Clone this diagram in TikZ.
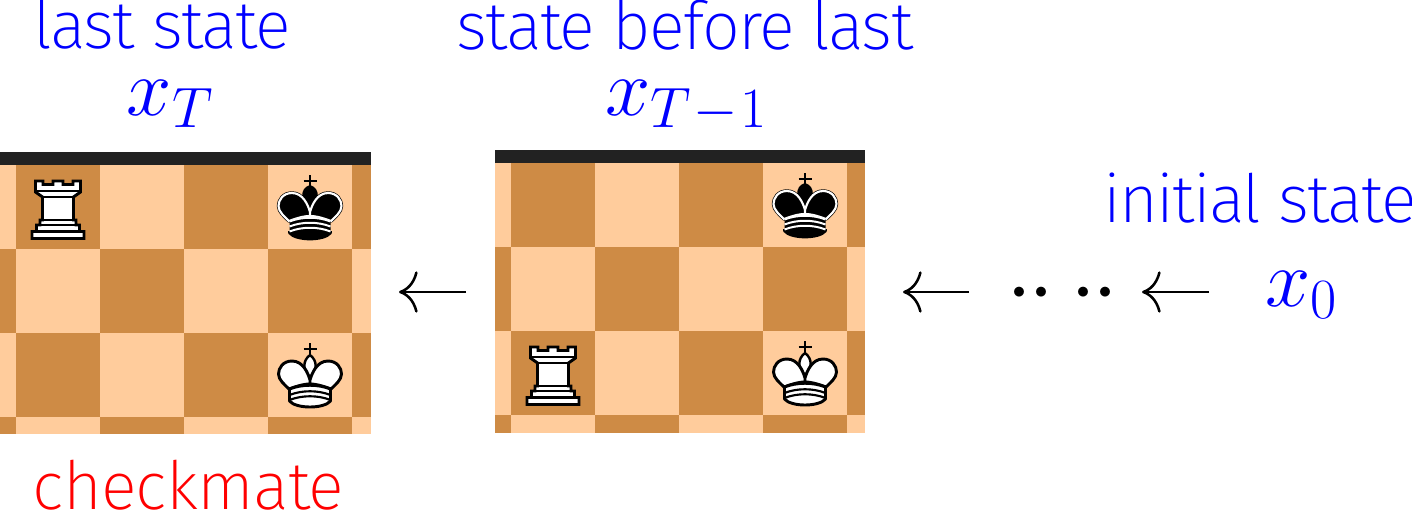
\documentclass[tikz,border=0pt]{standalone}
\usepackage{fix-cm}
\usepackage{fontspec}
\setmainfont{Fira Sans ExtraLight}
\usetikzlibrary{arrows.meta}
\definecolor{dsq}{HTML}{CE8B45}
\definecolor{lsq}{HTML}{FFCC9C}
\definecolor{barc}{HTML}{222222}
\definecolor{tblue}{HTML}{0000FF}
\newcommand{\bigtxt}{\fontsize{50}{60}\selectfont\addfontfeature{LetterSpace=-2.5}}
\newcommand{\mathtxt}{\fontsize{61}{70}\selectfont}
\newcommand{\bigdot}{\makebox[16.2pt]{\scalebox{1.15}{$\cdot$}}}
\newcommand{\kinglobes}{
  (0,47) .. controls (-2,40) and (-7,28) .. (-18,28) .. controls (-27,28) and (-31.5,35) .. (-31.5,41) .. controls (-31.5,47) and (-25,52) .. (-21,56) .. controls (-10,52) and (-5,51) .. (0,51) -- cycle
  (0,47) .. controls (2,40) and (7,28) .. (18,28) .. controls (27,28) and (31.5,35) .. (31.5,41) .. controls (31.5,47) and (25,52) .. (21,56) .. controls (10,52) and (5,51) .. (0,51) -- cycle}
\newcommand{\kingbase}{
  (-20.5,56) .. controls (-8,51) and (8,51) .. (20.5,56) -- (20.5,68) .. controls (14,76) and (-14,76) .. (-20.5,68) -- cycle}
\tikzset{
  label text/.style={font=\bigtxt,text=tblue,anchor=base,inner sep=0pt},
  math text/.style={font=\mathtxt,text=tblue,anchor=base,inner sep=0pt},
  conn/.style={-{To[length=14pt,width=31pt,line width=1.9pt]},line width=1.9pt},
  wking/.pic={
    \draw[line width=2.2pt] (0,10) -- (0,23) (-6.5,16) -- (6.5,16);
    \draw[line width=1.8pt,fill=white] (0,22) .. controls (-8,28) and (-7,38) .. (0,44) .. controls (7,38) and (8,28) .. (0,22) -- cycle;
    \draw[line width=2.2pt,fill=white,line join=round] \kinglobes;
    \draw[line width=2.2pt,fill=white,line join=round] \kingbase;
    \draw[line width=1.6pt] (-20.5,62) .. controls (-8,57) and (8,57) .. (20.5,62);
    \draw[line width=1.6pt] (-20.5,67) .. controls (-8,62) and (8,62) .. (20.5,67);
  },
  bking/.pic={
    \draw[line width=2.2pt] (0,10) -- (0,23) (-6.5,16) -- (6.5,16);
    \fill (0,20) .. controls (-11,23) and (-10,38) .. (0,46) .. controls (10,38) and (11,23) .. (0,20) -- cycle;
    \draw[line width=2.6pt,fill=black,line join=round] \kinglobes;
    \draw[line width=1.6pt,white,line join=round] \kinglobes;
    \fill \kingbase;
    \draw[line width=2pt,line join=round,fill=black] (-20.5,66) -- (-20.5,68) .. controls (-14,76) and (14,76) .. (20.5,68) -- (20.5,66);
    \draw[line width=1.5pt,white] (-20.5,56.5) .. controls (-8,51.5) and (8,51.5) .. (20.5,56.5);
    \draw[line width=1.5pt,white] (-20.5,61.5) .. controls (-8,56.5) and (8,56.5) .. (20.5,61.5);
    \draw[line width=1.5pt,white] (-20.5,66.5) .. controls (-8,61.5) and (8,61.5) .. (20.5,66.5);
  },
  wrook/.pic={
    \draw[line width=2.2pt,fill=white,line join=miter]
      (-22.5,16) -- (-15,16) -- (-15,19.5) -- (-5,19.5) -- (-5,16) -- (5,16) -- (5,19.5) -- (15,19.5) -- (15,16) -- (22.5,16)
      -- (22.5,27) -- (15.5,32) -- (15.5,55) -- (18,55) -- (18,60) -- (21.5,60) -- (21.5,66.5) -- (26,66.5) -- (26,73.5)
      -- (-26,73.5) -- (-26,66.5) -- (-21.5,66.5) -- (-21.5,60) -- (-18,60) -- (-18,55) -- (-15.5,55) -- (-15.5,32) -- (-22.5,27) -- cycle;
    \draw[line width=1.6pt] (-22.5,26) -- (22.5,26) (-15.5,32) -- (15.5,32) (-18,55) -- (18,55) (-21.5,60) -- (21.5,60) (-26,66.5) -- (26,66.5);
  },
}
\begin{document}
\begin{tikzpicture}[x=0.75pt,y=-0.75pt]
\useasboundingbox (0,0) rectangle (1412,511);
% board 1
\fill[lsq] (0,165) rectangle (370.5,434);
\foreach \c in {16,184} {\fill[dsq] (\c,165) rectangle +(84,84); \fill[dsq] (\c,333) rectangle +(84,84);}
\fill[dsq] (352,165) rectangle (370.5,249);
\fill[dsq] (352,333) rectangle (370.5,417);
\fill[dsq] (0,249) rectangle (16,333);
\fill[dsq] (100,249) rectangle +(84,84);
\fill[dsq] (268,249) rectangle +(84,84);
\fill[dsq] (0,417) rectangle (16,434);
\fill[dsq] (100,417) rectangle (184,434);
\fill[dsq] (268,417) rectangle (352,434);
\fill[barc] (0,152) rectangle (370.5,165);
% board 2
\fill[lsq] (495,163) rectangle (865,433);
\foreach \c in {511,679} {\fill[dsq] (\c,163) rectangle +(84,84); \fill[dsq] (\c,331) rectangle +(84,84);}
\fill[dsq] (847,163) rectangle (865,247);
\fill[dsq] (847,331) rectangle (865,415);
\fill[dsq] (495,247) rectangle (511,331);
\fill[dsq] (595,247) rectangle +(84,84);
\fill[dsq] (763,247) rectangle +(84,84);
\fill[dsq] (495,415) rectangle (511,433);
\fill[dsq] (595,415) rectangle (679,433);
\fill[dsq] (763,415) rectangle (847,433);
\fill[barc] (495,150) rectangle (865,163);
% pieces
\pic at (58,165) {wrook};
\pic at (310,165) {bking};
\pic at (310,333) {wking};
\pic at (805,163) {bking};
\pic at (805,331) {wking};
\pic at (553,331) {wrook};
% labels
\node[label text] (l1) at (162,48) {last state};
\node[label text] (l2) at (685,49) {state before last};
\node[label text] (l3) at (1260,222) {initial state};
\node[label text,text=red] (l4) at (188.5,509) {\addfontfeature{LetterSpace=-1.2}checkmate};
\node[math text] (m1) at (170,115) {$x_T$};
\node[math text] (m2) at (686,115) {$x_{T\kern.03em-\kern.03em1}$};
\node[math text] (m3) at (1301.5,306) {$x_0$};
\node[math text,text=black] (dots) at (1062.5,315.5) {\bigdot\bigdot\kern15.6pt\bigdot\bigdot};
\coordinate (a1s) at (466,292);
\coordinate (a1e) at (399,292);
\coordinate (a2s) at (969,292);
\coordinate (a2e) at (903,292);
\coordinate (a3s) at (1209,292);
\coordinate (a3e) at (1142,292);
% connectors
\draw[conn] (a1s) -- (a1e);
\draw[conn] (a2s) -- (a2e);
\draw[conn] (a3s) -- (a3e);
\end{tikzpicture}
\end{document}
